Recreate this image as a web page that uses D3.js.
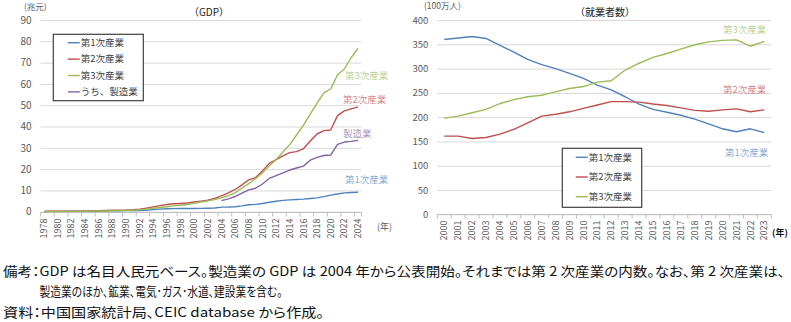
<!DOCTYPE html>
<html>
<head>
<meta charset="utf-8">
<script src="https://cdn.jsdelivr.net/npm/d3@7"></script>
<style>
body { margin: 0; background: #fff; }
svg text { font-family: "Noto Sans CJK JP", "Noto Sans", sans-serif; }
svg text.note { font-feature-settings: "palt"; }
</style>
</head>
<body>
<svg id="chart" width="791" height="322"></svg>
<script>
// GDP by sector, trillion yuan (1978-2024)
var gdpYears = d3.range(1978, 2025);
var gdpPrimary = [0.10, 0.13, 0.14, 0.16, 0.18, 0.20, 0.23, 0.26, 0.28, 0.32, 0.38, 0.42,
    0.51, 0.53, 0.58, 0.69, 0.95, 1.20, 1.39, 1.44, 1.48, 1.48,
    1.49, 1.58, 1.65, 1.74, 2.14, 2.18, 2.32, 2.75, 3.27, 3.42,
    3.84, 4.46, 4.91, 5.30, 5.56, 5.73, 5.92, 6.21, 6.47, 7.05,
    7.78, 8.33, 8.83, 8.98, 9.14];
var gdpSecondary = [0.17, 0.19, 0.22, 0.23, 0.24, 0.27, 0.31, 0.39, 0.45, 0.53, 0.66, 0.73,
    0.77, 0.91, 1.17, 1.68, 2.24, 2.85, 3.36, 3.72, 3.86, 4.06,
    4.56, 4.95, 5.39, 6.24, 7.40, 8.80, 10.44, 12.58, 14.98, 16.00,
    19.16, 22.70, 24.48, 26.17, 27.75, 28.20, 29.54, 33.16, 36.48, 38.06,
    38.37, 45.09, 47.36, 48.26, 49.21];
var gdpTertiary = [0.09, 0.09, 0.10, 0.11, 0.13, 0.15, 0.19, 0.26, 0.30, 0.36, 0.46, 0.55,
    0.59, 0.74, 0.94, 1.19, 1.60, 2.00, 2.35, 2.74, 3.06, 3.39,
    3.97, 4.55, 5.07, 5.66, 6.48, 7.50, 8.86, 11.11, 13.14, 15.49,
    18.27, 21.61, 24.45, 28.00, 31.50, 36.00, 40.50, 45.80, 51.00, 55.80,
    57.60, 64.30, 67.00, 72.30, 76.60];
// manufacturing is only published from 2004
var gdpManufacturing = [null, null, null, null, null, null, null, null, null, null, null, null,
    null, null, null, null, null, null, null, null, null, null,
    null, null, null, null, 5.18, 6.04, 7.12, 8.73, 10.25, 11.01,
    13.01, 15.62, 16.96, 18.19, 19.56, 20.50, 21.40, 24.20, 25.50, 26.40,
    26.60, 31.60, 32.70, 33.00, 33.50];
var gdpTicks = [0, 10, 20, 30, 40, 50, 60, 70, 80, 90];

// employment by sector, million persons (2000-2023)
var empYears = d3.range(2000, 2024);
var empPrimary = [360, 363, 366, 362, 348, 334, 319, 308, 300, 290,
    280, 266, 256, 242, 227, 216, 210, 204, 196, 186,
    176, 170, 176, 168];
var empSecondary = [161, 161, 156, 158, 165, 175, 188, 202, 206, 211,
    218, 225, 232, 232, 231, 227, 224, 219, 214, 212,
    215, 217, 211, 215];
var empTertiary = [198, 202, 209, 216, 228, 236, 242, 245, 252, 259,
    263, 272, 275, 297, 311, 323, 331, 340, 349, 355,
    358, 359, 346, 356];
var empTicks = [0, 50, 100, 150, 200, 250, 300, 350, 400];

var colors = {
    primary: "#4f81bd",
    secondary: "#c0504d",
    tertiary: "#9bbb59",
    manufacturing: "#8064a2"
};

var svg = d3.select("#chart");

/**
 * Draws one line panel: gridlines, category axis, series and labels
 * @param opt panel settings (frame, data, legend, labels)
 */
function drawPanel(opt) {
    var x = d3.scaleBand().domain(opt.years).range([opt.left, opt.right]);
    var y = d3.scaleLinear().domain([0, opt.max]).range([opt.bottom, opt.top]);
    var g = svg.append("g");

    // horizontal gridlines + value labels
    var yAxis = g.append("g")
        .attr("transform", "translate(" + opt.left + ",0)")
        .call(d3.axisLeft(y).tickValues(opt.ticks).tickSize(-(opt.right - opt.left)).tickPadding(9));
    yAxis.select(".domain").remove();
    yAxis.selectAll(".tick line").attr("stroke", "#d9d9d9").attr("stroke-width", 1);
    yAxis.selectAll(".tick text").attr("fill", "#595959").style("font-size", opt.tickFont + "px");

    // category axis line and boundary tick marks
    var y0 = Math.round(y(0)) + 0.5;
    g.append("line")
        .attr("x1", opt.left).attr("x2", opt.right)
        .attr("y1", y0).attr("y2", y0)
        .attr("stroke", "#bfbfbf");
    var marks = opt.years.filter(function (d, i) { return i % opt.every === 0; })
        .map(function (d) { return x(d); });
    marks.push(opt.right);
    g.selectAll("line.mark").data(marks).enter().append("line")
        .attr("class", "mark")
        .attr("x1", function (d) { return d; }).attr("x2", function (d) { return d; })
        .attr("y1", y0).attr("y2", y0 + 4)
        .attr("stroke", "#bfbfbf");

    var xAxis = g.append("g")
        .attr("transform", "translate(0," + y0 + ")")
        .call(d3.axisBottom(x)
            .tickValues(opt.years.filter(function (d, i) { return i % opt.every === 0; }))
            .tickSize(0));
    xAxis.select(".domain").remove();
    xAxis.selectAll(".tick text")
        .attr("transform", "rotate(-90)")
        .attr("x", -6).attr("y", 0).attr("dy", "0.35em")
        .attr("text-anchor", "end")
        .attr("fill", "#595959")
        .style("font-size", "9px");

    var line = d3.line()
        .defined(function (d) { return d.v !== null; })
        .x(function (d) { return x(d.year) + x.bandwidth() / 2; })
        .y(function (d) { return y(d.v); });

    opt.series.forEach(function (s) {
        var pts = opt.years.map(function (yr, i) { return { year: yr, v: s.values[i] }; });
        g.append("path")
            .datum(pts)
            .attr("fill", "none")
            .attr("stroke", s.color)
            .attr("stroke-width", 1.4)
            .attr("stroke-linejoin", "round")
            .attr("d", line);
    });

    // series names at the right end of the lines
    opt.series.forEach(function (s) {
        g.append("text")
            .attr("x", s.labelX).attr("y", s.labelY)
            .attr("dy", "0.35em")
            .attr("fill", s.color)
            .attr("fill-opacity", 0.7)
            .style("font-size", "9.5px")
            .text(s.label);
    });

    // legend box
    var lg = g.append("g");
    lg.append("rect")
        .attr("x", opt.legend.x).attr("y", opt.legend.y)
        .attr("width", opt.legend.w).attr("height", opt.legend.h)
        .attr("fill", "#fff").attr("stroke", "#404040").attr("stroke-width", 1.2);
    opt.legend.items.forEach(function (s, i) {
        var ly = opt.legend.y + opt.legend.first + i * opt.legend.gap;
        lg.append("line")
            .attr("x1", opt.legend.x + opt.legend.pad).attr("x2", opt.legend.x + opt.legend.pad + 12)
            .attr("y1", ly).attr("y2", ly)
            .attr("stroke", s.color).attr("stroke-width", 1.4);
        lg.append("text")
            .attr("x", opt.legend.x + opt.legend.pad + 13).attr("y", ly)
            .attr("dy", "0.35em")
            .attr("fill", "#404040")
            .style("font-size", "9.5px")
            .text(s.name);
    });

    // title and unit
    g.append("text")
        .attr("x", opt.titleX).attr("y", 12).attr("dy", "0.35em")
        .attr("text-anchor", "middle")
        .attr("fill", "#222")
        .style("font-size", "10px")
        .text(opt.title);
    g.append("text")
        .attr("x", opt.unitX).attr("y", opt.unitY).attr("dy", "0.35em")
        .attr("fill", "#595959")
        .style("font-size", "8.5px")
        .text(opt.unit);
    g.append("text")
        .attr("x", opt.yearX).attr("y", opt.yearY).attr("dy", "0.35em")
        .attr("fill", opt.yearBold ? "#111" : "#595959")
        .style("font-size", "9px")
        .style("font-weight", opt.yearBold ? "bold" : "normal")
        .text("(年)");
}

drawPanel({
    years: gdpYears, max: 90, ticks: gdpTicks, tickFont: 10,
    left: 40.6, right: 361.4, top: 20, bottom: 211.7, every: 2,
    title: "（GDP）", titleX: 209, unit: "(兆元)", unitX: 24, unitY: 7,
    yearX: 377, yearY: 227, yearBold: false,
    series: [
        { values: gdpPrimary, color: colors.primary, label: "第1次産業", labelX: 345, labelY: 180 },
        { values: gdpSecondary, color: colors.secondary, label: "第2次産業", labelX: 343, labelY: 100 },
        { values: gdpTertiary, color: colors.tertiary, label: "第3次産業", labelX: 345, labelY: 76 },
        { values: gdpManufacturing, color: colors.manufacturing, label: "製造業", labelX: 343, labelY: 134 }
    ],
    legend: {
        x: 53.3, y: 34.3, w: 90, h: 66.4, pad: 14.5, first: 8.4, gap: 16.4,
        items: [
            { name: "第1次産業", color: colors.primary },
            { name: "第2次産業", color: colors.secondary },
            { name: "第3次産業", color: colors.tertiary },
            { name: "うち、製造業", color: colors.manufacturing }
        ]
    }
});

drawPanel({
    years: empYears, max: 400, ticks: empTicks, tickFont: 9.5,
    left: 437.3, right: 771.3, top: 20, bottom: 214.3, every: 1,
    title: "（就業者数）", titleX: 605, unit: "(100万人)", unitX: 424, unitY: 6,
    yearX: 772, yearY: 233, yearBold: true,
    series: [
        { values: empPrimary, color: colors.primary, label: "第1次産業", labelX: 725, labelY: 152.7 },
        { values: empSecondary, color: colors.secondary, label: "第2次産業", labelX: 723, labelY: 89.3 },
        { values: empTertiary, color: colors.tertiary, label: "第3次産業", labelX: 723, labelY: 29.3 }
    ],
    legend: {
        x: 562.3, y: 148.3, w: 79.4, h: 59, pad: 13.4, first: 9, gap: 19.7,
        items: [
            { name: "第1次産業", color: colors.primary },
            { name: "第2次産業", color: colors.secondary },
            { name: "第3次産業", color: colors.tertiary }
        ]
    }
});

// notes under the charts
var notes = [
    { text: "備考：GDP は名目人民元ベース。製造業の GDP は 2004 年から公表開始。それまでは第 2 次産業の内数。なお、第 2 次産業は、", x: 3, y: 271, w: 782 },
    { text: "製造業のほか、鉱業、電気･ガス･水道、建設業を含む。", x: 39.5, y: 291.5, w: 243 },
    { text: "資料：中国国家統計局、CEIC database から作成。", x: 3, y: 312, w: 321 }
];
svg.selectAll("text.note").data(notes).enter().append("text")
    .attr("class", "note")
    .attr("x", function (d) { return d.x; })
    .attr("y", function (d) { return d.y; })
    .attr("dy", "0.35em")
    .attr("textLength", function (d) { return d.w; })
    .attr("lengthAdjust", "spacingAndGlyphs")
    .attr("fill", "#111")
    .style("font-size", "13px")
    .text(function (d) { return d.text; });
</script>
</body>
</html>
